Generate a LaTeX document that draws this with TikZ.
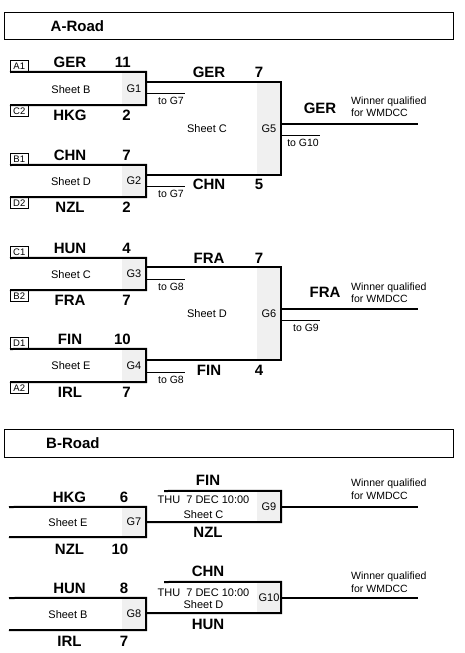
\documentclass[tikz,border=0pt]{standalone}
\usepackage{fontspec}
\setmainfont{Liberation Sans}
\usetikzlibrary{positioning,calc}
\tikzset{
  hdr/.style   = {draw, line width=1.2pt, anchor=north west, minimum width=449pt,
                  minimum height=27pt, inner sep=0pt},
  title/.style = {font=\fontsize{15}{18}\selectfont\bfseries, inner sep=0pt},
  seed/.style  = {draw, line width=0.6pt, minimum width=18pt, minimum height=11pt,
                  inner sep=0pt, font=\fontsize{9.5}{10}\selectfont},
  team/.style  = {font=\fontsize{15}{18}\selectfont\bfseries, inner sep=0pt},
  score/.style = {team, anchor=east},
  sheet/.style = {font=\fontsize{11}{13}\selectfont, inner sep=0pt},
  gbox/.style  = {fill=gray!12, minimum width=24pt, inner sep=0pt,
                  font=\fontsize{11}{13}\selectfont},
  bline/.style = {line width=2pt},
  tline/.style = {line width=0.8pt},
  tolbl/.style = {below left, inner xsep=1pt, inner ysep=4pt,
                  font=\fontsize{10.5}{12}\selectfont},
  win/.style   = {anchor=west, align=left, inner sep=0pt,
                  font=\fontsize{10.5}{12.5}\selectfont},
}

\begin{document}
\begin{tikzpicture}[x=1pt, y=-1pt]
\useasboundingbox (0,0) rectangle (465,653);

%% A-Road
\node[hdr] (abox) at (4,12) {};
\node[title, right=46.5pt of abox.west] (atitle) {A-Road};

%% G1
\node[seed, anchor=south west] (a1) at (10,72)  {A1};
\node[seed, anchor=north west] (c2) at (10,105) {C2};
\node[gbox, minimum height=33pt] (g1) at (134,88.5) {G1};
\node[sheet] (sh1) at (71,89.5) {Sheet B};
\node[team]  (t1a) at (70,62.5)  {GER};
\node[score] (p1a) at (131,62.5) {11};
\node[team]  (t1b) at (70,115.5)  {HKG};
\node[score] (p1b) at (131,115.5) {2};
\draw[bline] (a1.south west) -- (g1.north east) -- (g1.south east) -- (c2.north west);

%% G2
\node[seed, anchor=south west] (b1) at (10,165) {B1};
\node[seed, anchor=north west] (d2) at (10,197) {D2};
\node[gbox, minimum height=32pt] (g2) at (134,181) {G2};
\node[sheet] (sh2) at (71,181.5) {Sheet D};
\node[team]  (t2a) at (70,155.5)  {CHN};
\node[score] (p2a) at (131,155.5) {7};
\node[team]  (t2b) at (70,207.5)  {NZL};
\node[score] (p2b) at (131,207.5) {2};
\draw[bline] (b1.south west) -- (g2.north east) -- (g2.south east) -- (d2.north west);

%% G3
\node[seed, anchor=south west] (c1) at (10,258) {C1};
\node[seed, anchor=north west] (b2) at (10,290) {B2};
\node[gbox, minimum height=32pt] (g3) at (134,274) {G3};
\node[sheet] (sh3) at (71,274.5) {Sheet C};
\node[team]  (t3a) at (70,248.5)  {HUN};
\node[score] (p3a) at (131,248.5) {4};
\node[team]  (t3b) at (70,300.5)  {FRA};
\node[score] (p3b) at (131,300.5) {7};
\draw[bline] (c1.south west) -- (g3.north east) -- (g3.south east) -- (b2.north west);

%% G4
\node[seed, anchor=south west] (d1) at (10,349) {D1};
\node[seed, anchor=north west] (a2) at (10,382) {A2};
\node[gbox, minimum height=33pt] (g4) at (134,365.5) {G4};
\node[sheet] (sh4) at (71,366) {Sheet E};
\node[team]  (t4a) at (70,339.5)  {FIN};
\node[score] (p4a) at (131,339.5) {10};
\node[team]  (t4b) at (70,392.5)  {IRL};
\node[score] (p4b) at (131,392.5) {7};
\draw[bline] (d1.south west) -- (g4.north east) -- (g4.south east) -- (a2.north west);

%% Losers
\draw[tline] ($(g1.east)+(0,4.5)$) -- ++(39,0) node[tolbl] {to G7};
\draw[tline] ($(g2.east)+(0,5)$)   -- ++(39,0) node[tolbl] {to G7};
\draw[tline] ($(g3.east)+(0,5)$)   -- ++(39,0) node[tolbl] {to G8};
\draw[tline] ($(g4.east)+(0,6.5)$) -- ++(39,0) node[tolbl] {to G8};

%% G5
\node[gbox, minimum height=93pt] (g5) at (269,128.5) {G5};
\node[sheet] (sh5) at (207,129) {Sheet C};
\node[team]  (t5a) at (209,72)    {GER};
\node[score] (p5a) at (263.5,72)  {7};
\node[team]  (t5b) at (209,184.5)   {CHN};
\node[score] (p5b) at (263.5,184.5) {5};
\draw[bline] (g1.east |- g5.north) -- (g5.north east) -- (g5.south east) -- (g2.east |- g5.south);
\coordinate (w5) at (418,124);
\draw[bline] (g5.east |- w5) -- (w5);
\draw[tline] ($(g5.east |- w5)+(0,11)$) -- ++(39,0) node[tolbl] {to G10};
\node[team] (t5w) at (320,108.5) {GER};
\node[win]  (q5)  at (351,106.6) {Winner qualified\\for WMDCC};

%% G6
\node[gbox, minimum height=93pt] (g6) at (269,313.5) {G6};
\node[sheet] (sh6) at (207,314) {Sheet D};
\node[team]  (t6a) at (209,258)    {FRA};
\node[score] (p6a) at (263.5,258)  {7};
\node[team]  (t6b) at (209,370.5)   {FIN};
\node[score] (p6b) at (263.5,370.5) {4};
\draw[bline] (g3.east |- g6.north) -- (g6.north east) -- (g6.south east) -- (g4.east |- g6.south);
\coordinate (w6) at (418,309);
\draw[bline] (g6.east |- w6) -- (w6);
\draw[tline] ($(g6.east |- w6)+(0,11)$) -- ++(39,0) node[tolbl] {to G9};
\node[team] (t6w) at (325,292.5) {FRA};
\node[win]  (q6)  at (351,292.5) {Winner qualified\\for WMDCC};

%% B-Road
\node[hdr, minimum height=28pt] (bbox) at (4,429) {};
\node[title, right=42pt of bbox.west] (btitle) {B-Road};

%% G7
\coordinate (h7) at (9,507);
\coordinate (l7) at (9,537);
\node[gbox, minimum height=30pt] (g7) at (134,522) {G7};
\node[sheet] (sh7) at (68,523) {Sheet E};
\node[team]  (t7a) at (69.5,497.5)  {HKG};
\node[score] (p7a) at (128.5,497.5) {6};
\node[team]  (t7b) at (69.5,549)    {NZL};
\node[score] (p7b) at (128.5,549)   {10};
\draw[bline] (h7) -- (g7.north east) -- (g7.south east) -- (l7);

%% G9
\coordinate (f9) at (164,491);
\node[gbox, minimum height=31pt] (g9) at (269,506.5) {G9};
\node[sheet] (d9)  at (203.5,499.7) {THU\ \ 7 DEC 10:00};
\node[sheet] (sh9) at (203.5,514.7) {Sheet C};
\node[team]  (t9a) at (208,480.5) {FIN};
\node[team]  (t9b) at (208,532)   {NZL};
\draw[bline] (f9) -- (g9.north east) -- (g9.south east) -- (g7.east |- g9.south);
\coordinate (w9) at (418,506.5);
\draw[bline] (g9.east) -- (w9);
\node[win] (q9) at (351,489) {Winner qualified\\for WMDCC};

%% G8
\coordinate (h8) at (9,598);
\coordinate (l8) at (9,630);
\node[gbox, minimum height=32pt] (g8) at (134,614) {G8};
\node[sheet] (sh8) at (68,614.5) {Sheet B};
\node[team]  (t8a) at (69.5,588)  {HUN};
\node[score] (p8a) at (128.5,588) {8};
\node[team]  (t8b) at (69.5,641)  {IRL};
\node[score] (p8b) at (128.5,641) {7};
\draw[bline] (h8) -- (g8.north east) -- (g8.south east) -- (l8);

%% G10
\coordinate (f10) at (164,582);
\node[gbox, minimum height=31pt] (g10) at (269,597.5) {G10};
\node[sheet] (d10)  at (203.5,592.5) {THU\ \ 7 DEC 10:00};
\node[sheet] (sh10) at (203.5,604.7) {Sheet D};
\node[team]  (t10a) at (208,571) {CHN};
\node[team]  (t10b) at (208,624) {HUN};
\draw[bline] (f10) -- (g10.north east) -- (g10.south east) -- (g8.east |- g10.south);
\coordinate (w10) at (418,597.5);
\draw[bline] (g10.east) -- (w10);
\node[win] (q10) at (351,582) {Winner qualified\\for WMDCC};

\end{tikzpicture}
\end{document}
